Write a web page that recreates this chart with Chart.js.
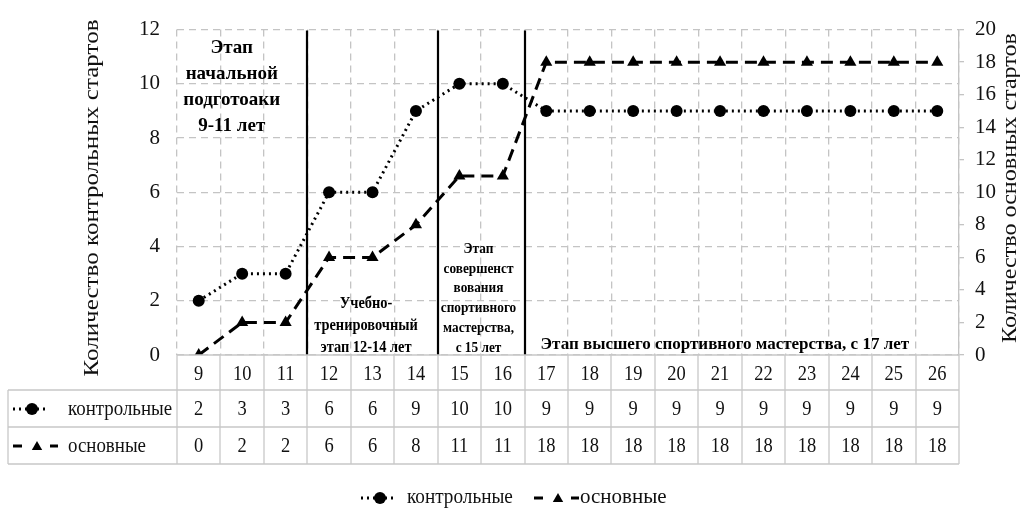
<!DOCTYPE html>
<html>
<head>
<meta charset="utf-8">
<script src="https://cdn.jsdelivr.net/npm/chart.js@4.4.1/dist/chart.umd.min.js"></script>
<style>
  html, body { margin: 0; padding: 0; background: #fff; }
  #wrap { width: 1020px; height: 509px; position: relative; }
</style>
</head>
<body>
<div id="wrap"><canvas id="c" width="1020" height="509" style="width:1020px;height:509px"></canvas></div>
<script>
// Age in years (columns of the data table)
const ages = ['9','10','11','12','13','14','15','16','17','18','19','20','21','22','23','24','25','26'];
// Number of control starts per year (left axis)
const controlStarts = [2, 3, 3, 6, 6, 9, 10, 10, 9, 9, 9, 9, 9, 9, 9, 9, 9, 9];
// Number of main starts per year (right axis)
const mainStarts = [0, 2, 2, 6, 6, 8, 11, 11, 18, 18, 18, 18, 18, 18, 18, 18, 18, 18];
// Series names
const seriesNames = ['контрольные', 'основные'];
// Axis titles
const leftTitle = 'Количество контрольных стартов';
const rightTitle = 'Количество основных стартов';
// Stage borders, between column indexes
const stageBorders = [2.5, 5.5, 7.5];
// Stage captions
const stage1Lines = ['Этап', 'начальной', 'подготоаки', '9-11 лет'];
const stage2Lines = ['Учебно-', 'тренировочный', 'этап 12-14 лет'];
const stage3Lines = ['Этап', 'совершенст', 'вования', 'спортивного', 'мастерства,', 'с 15 лет'];
const stage4Lines = ['Этап высшего спортивного мастерства, с 17 лет'];

const SERIF = '"Liberation Serif", "Times New Roman", serif';
const GRID = '#c4c4c4';
const TABLE = '#c8c8c8';

// caption placement: column index, left-axis value of first line, line step (px), font size, width squeeze
const captionLayout = [
  { lines: stage1Lines, at: 0.76, val: 11.3, step: 25.8, size: 19, sx: 1 },
  { lines: stage2Lines, at: 3.85, val: 1.9, step: 22, size: 16, sx: 0.9 },
  { lines: stage3Lines, at: 6.44, val: 3.9, step: 19.8, size: 14, sx: 0.95 },
  { lines: stage4Lines, at: 12.11, val: 0.4, step: 0, size: 17, sx: 1 }
];

const dotDash = [2, 4];
const longDash = [12, 7];

// text drawn narrower than its font (tall, condensed serif look)
function squeezedText(ctx, text, x, y, sx) {
  ctx.save();
  ctx.translate(x, y);
  ctx.scale(sx, 1);
  ctx.fillText(text, 0, 0);
  ctx.restore();
}

function drawSymbol(ctx, kind, x, y) {
  const H = Chart.helpers;
  ctx.save();
  ctx.strokeStyle = '#000';
  ctx.fillStyle = '#000';
  ctx.lineWidth = 3;
  if (kind === 0) {
    ctx.setLineDash(dotDash);
    ctx.beginPath(); ctx.moveTo(x - 19, y); ctx.lineTo(x + 16, y); ctx.stroke();
    ctx.setLineDash([]);
    H.drawPoint(ctx, { pointStyle: 'circle', radius: 6, rotation: 0, borderWidth: 0 }, x, y);
  } else {
    ctx.setLineDash([]);
    ctx.beginPath(); ctx.moveTo(x - 24, y); ctx.lineTo(x - 15, y); ctx.stroke();
    ctx.beginPath(); ctx.moveTo(x + 13, y); ctx.lineTo(x + 21, y); ctx.stroke();
    H.drawPoint(ctx, { pointStyle: 'triangle', radius: 6, rotation: 0, borderWidth: 0 }, x, y + 1);
  }
  ctx.restore();
}

function rotatedTitle(ctx, text, cx, cy, size, length) {
  ctx.save();
  ctx.font = size + 'px ' + SERIF;
  ctx.textAlign = 'center';
  ctx.textBaseline = 'middle';
  const w = ctx.measureText(text).width;
  ctx.translate(cx, cy);
  ctx.rotate(-Math.PI / 2);
  ctx.scale(length / w, 1);
  ctx.fillText(text, 0, 0);
  ctx.restore();
}

const stagePlugin = {
  id: 'stages',
  beforeDatasetsDraw(chart) {
    const { ctx, chartArea: a, scales } = chart;
    const x = scales.x, y = scales.y;
    ctx.save();
    // stage separators
    ctx.strokeStyle = '#000';
    ctx.lineWidth = 2.2;
    stageBorders.forEach(b => {
      const px = Math.round(x.getPixelForValue(b));
      ctx.beginPath(); ctx.moveTo(px, a.top + 1); ctx.lineTo(px, a.bottom); ctx.stroke();
    });
    // stage captions
    ctx.fillStyle = '#000';
    ctx.textAlign = 'center';
    ctx.textBaseline = 'middle';
    captionLayout.forEach(c => {
      ctx.font = 'bold ' + c.size + 'px ' + SERIF;
      const cx = x.getPixelForValue(c.at);
      const y0 = y.getPixelForValue(c.val);
      c.lines.forEach((t, i) => squeezedText(ctx, t, cx, y0 + i * c.step, c.sx));
    });
    ctx.restore();
  },
  afterDraw(chart) {
    const { ctx, chartArea: a, scales } = chart;
    const x = scales.x;
    const n = ages.length;
    const rowTop = [a.bottom, 390, 427, 464];
    const tableLeft = 8;
    const edges = [];
    for (let i = 0; i <= n; i++) edges.push(Math.round(x.getPixelForValue(i - 0.5)));

    ctx.save();
    ctx.strokeStyle = TABLE;
    ctx.lineWidth = 1.3;
    ctx.setLineDash([]);
    // horizontal rules
    ctx.beginPath();
    ctx.moveTo(edges[0], rowTop[0]); ctx.lineTo(edges[n], rowTop[0]);
    for (let r = 1; r < 4; r++) { ctx.moveTo(tableLeft, rowTop[r]); ctx.lineTo(edges[n], rowTop[r]); }
    // vertical rules
    edges.forEach(e => { ctx.moveTo(e, rowTop[0]); ctx.lineTo(e, rowTop[3]); });
    ctx.moveTo(tableLeft, rowTop[1]); ctx.lineTo(tableLeft, rowTop[3]);
    ctx.stroke();

    // cells
    ctx.fillStyle = '#111';
    ctx.font = '21px ' + SERIF;
    ctx.textAlign = 'center';
    ctx.textBaseline = 'middle';
    const rows = [ages, controlStarts, mainStarts];
    const rowMid = [374, 409, 446];
    rows.forEach((vals, r) => {
      vals.forEach((v, i) => squeezedText(ctx, String(v), x.getPixelForValue(i), rowMid[r], 0.88));
    });
    // row headers
    ctx.textAlign = 'left';
    drawSymbol(ctx, 0, 32, rowMid[1]);
    squeezedText(ctx, seriesNames[0], 68, rowMid[1], 0.9);
    drawSymbol(ctx, 1, 37, rowMid[2]);
    squeezedText(ctx, seriesNames[1], 68, rowMid[2], 0.9);

    // legend
    ctx.font = '20px ' + SERIF;
    const ly = 498;
    drawSymbol(ctx, 0, 380, ly);
    squeezedText(ctx, seriesNames[0], 407, ly, 0.96);
    drawSymbol(ctx, 1, 558, ly);
    squeezedText(ctx, seriesNames[1], 580, ly, 1.05);
    ctx.restore();

    // axis titles
    ctx.fillStyle = '#111';
    rotatedTitle(ctx, leftTitle, 92, 198, 21, 357);
    rotatedTitle(ctx, rightTitle, 1011, 188, 20, 310);
  }
};

Chart.defaults.font.family = SERIF;
Chart.defaults.color = '#111';

new Chart(document.getElementById('c'), {
  type: 'line',
  data: {
    labels: ages,
    datasets: [
      {
        label: seriesNames[0],
        data: controlStarts,
        yAxisID: 'y',
        borderColor: '#000',
        backgroundColor: '#000',
        borderWidth: 3,
        borderDash: dotDash,
        pointStyle: 'circle',
        pointRadius: 6,
        pointHoverRadius: 6,
        pointBorderWidth: 0,
        tension: 0
      },
      {
        label: seriesNames[1],
        data: mainStarts,
        yAxisID: 'y1',
        borderColor: '#000',
        backgroundColor: '#000',
        borderWidth: 3,
        borderDash: longDash,
        pointStyle: 'triangle',
        pointRadius: 7,
        pointHoverRadius: 7,
        pointBorderWidth: 0,
        tension: 0
      }
    ]
  },
  options: {
    responsive: false,
    animation: false,
    devicePixelRatio: 1,
    layout: { padding: { top: 23, left: 0, right: 0, bottom: 0 } },
    plugins: {
      legend: { display: false },
      tooltip: { enabled: false }
    },
    scales: {
      x: {
        type: 'category',
        offset: true,
        grid: { offset: true, color: GRID, lineWidth: 1.3, drawTicks: false },
        border: { display: false, dash: [7, 5] },
        ticks: { display: false },
        afterFit(s) { s.height = 154; }
      },
      y: {
        position: 'left',
        min: 0, max: 12,
        ticks: { stepSize: 2, padding: 17, font: { size: 21 }, color: '#111' },
        grid: { color: GRID, lineWidth: 1.3, drawTicks: false },
        border: { display: false, dash: [7, 5] },
        afterFit(s) { s.width = 177; }
      },
      y1: {
        position: 'right',
        min: 0, max: 20,
        ticks: { stepSize: 2, padding: 11, font: { size: 21 }, color: '#111' },
        grid: { drawOnChartArea: false, drawTicks: true, tickLength: 5, color: GRID, lineWidth: 1.3 },
        border: { display: true, color: GRID, width: 1.3 },
        afterFit(s) { s.width = 61; }
      }
    }
  },
  plugins: [stagePlugin]
});
</script>
</body>
</html>
